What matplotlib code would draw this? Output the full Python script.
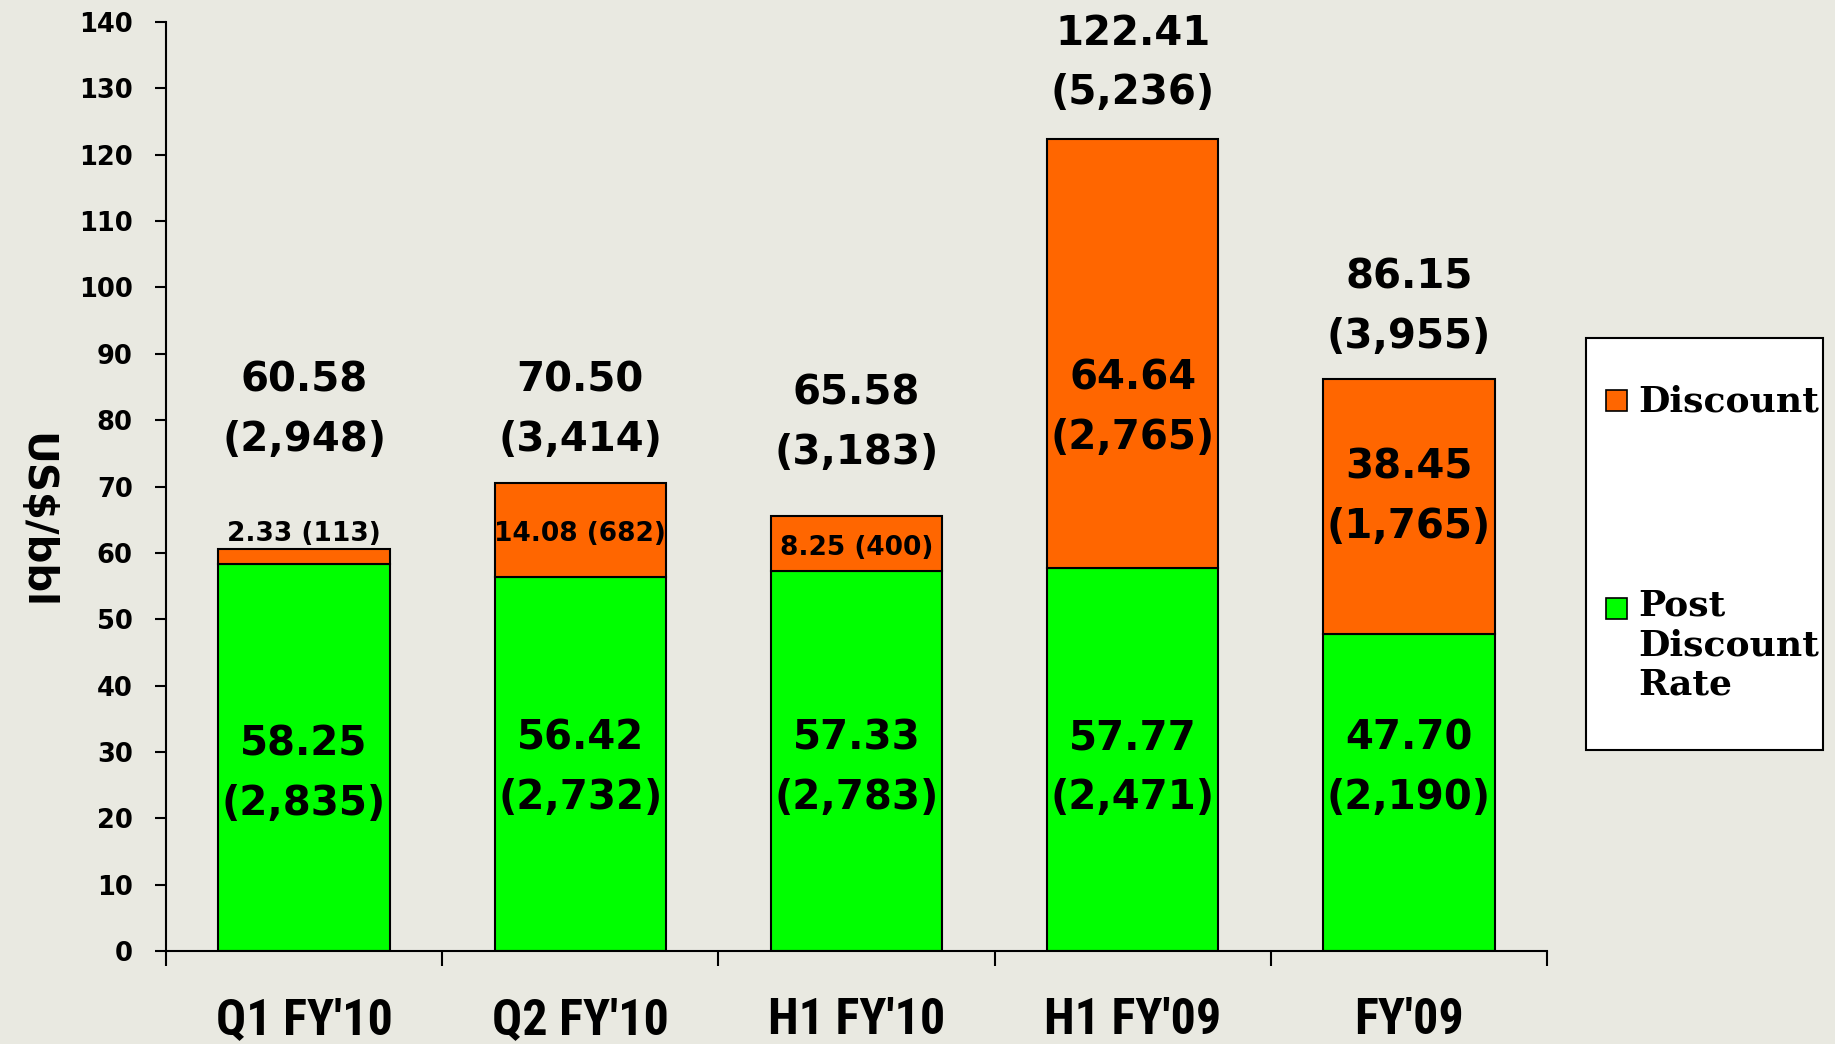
import matplotlib
matplotlib.use("Agg")
import matplotlib.pyplot as plt
from matplotlib import font_manager
from matplotlib.patches import Rectangle

categories = ["Q1 FY'10", "Q2 FY'10", "H1 FY'10", "H1 FY'09", "FY'09"]
post_discount = [58.25, 56.42, 57.33, 57.77, 47.70]
post_discount_vol = ["2,835", "2,732", "2,783", "2,471", "2,190"]
discount = [2.33, 14.08, 8.25, 64.64, 38.45]
discount_vol = ["113", "682", "400", "2,765", "1,765"]
total = [60.58, 70.50, 65.58, 122.41, 86.15]
total_vol = ["2,948", "3,414", "3,183", "5,236", "3,955"]

# label placement (data units), hand-tuned like the original slide
total_label_y = [81.5, 81.5, 79.5, 133.8, 97.0]
green_label_y = [26.6, 27.5, 27.5, 27.5, 27.5]
discount_label_y = [62.8, 62.8, 60.8, 81.8, 68.4]
small_discount = [True, True, True, False, False]

ORANGE = "#FF6600"
GREEN = "#00FF00"
BG = "#E9E9E1"

names = {f.name for f in font_manager.fontManager.ttflist}
narrow = next((n for n in ["Liberation Sans Narrow", "Roboto Condensed", "Liberation Sans"] if n in names), "DejaVu Sans")

W, H = 1835, 1044
fig = plt.figure(figsize=(W / 100, H / 100), dpi=100, facecolor=BG)
ax = fig.add_axes([166 / W, 93 / H, (1547 - 166) / W, (951 - 22) / H])
ax.set_facecolor(BG)

x = list(range(len(categories)))
ax.bar(x, post_discount, width=0.62, color=GREEN, edgecolor="black", linewidth=1.5, zorder=2)
ax.bar(x, discount, width=0.62, bottom=post_discount, color=ORANGE, edgecolor="black", linewidth=1.5, zorder=2)

ax.set_xlim(-0.5, len(categories) - 0.5)
ax.set_ylim(0, 140)

for side in ["top", "right"]:
    ax.spines[side].set_visible(False)
for side in ["left", "bottom"]:
    ax.spines[side].set_linewidth(1.5)

ax.set_yticks(range(0, 141, 10))
ax.tick_params(axis="y", length=8, width=1.5, pad=16, labelsize=18.5)
for lbl in ax.get_yticklabels():
    lbl.set_fontweight("bold")

ax.set_xticks([v - 0.5 for v in range(len(categories) + 1)])
ax.set_xticklabels([])
ax.tick_params(axis="x", which="major", length=11, width=1.5)
ax.set_xticks(x, minor=True)
ax.set_xticklabels(categories, minor=True, fontsize=36, fontweight="bold", family=narrow)
ax.tick_params(axis="x", which="minor", length=0, pad=33)

big = dict(ha="center", va="center", fontsize=29, fontweight="bold", linespacing=1.62, zorder=3)
small = dict(ha="center", va="center", fontsize=19, fontweight="bold", zorder=3)

for i in x:
    ax.text(i, total_label_y[i], f"{total[i]:.2f}\n({total_vol[i]})", **big)
    ax.text(i, green_label_y[i], f"{post_discount[i]:.2f}\n({post_discount_vol[i]})", **big)
    if small_discount[i]:
        ax.text(i, discount_label_y[i], f"{discount[i]:.2f} ({discount_vol[i]})", **small)
    else:
        ax.text(i, discount_label_y[i], f"{discount[i]:.2f}\n({discount_vol[i]})", **big)

fig.text(35 / W, 1 - 521 / H, "US$/bbl", rotation=270, ha="center", va="center",
         fontsize=29, fontweight="bold")

# legend box drawn by hand so the swatch sits beside the first line
fig.patches.append(Rectangle((1586 / W, 1 - 750 / H), 237 / W, 412 / H, transform=fig.transFigure,
                             facecolor="white", edgecolor="black", linewidth=1.5))
for color, y_top in [(ORANGE, 390), (GREEN, 598)]:
    fig.patches.append(Rectangle((1606 / W, 1 - (y_top + 21) / H), 21 / W, 21 / H, transform=fig.transFigure,
                                 facecolor=color, edgecolor="black", linewidth=1.2))
legend_font = dict(family="DejaVu Serif", fontsize=26, fontweight="bold", ha="left")
fig.text(1638 / W, 1 - 401 / H, "Discount", va="center", **legend_font)
fig.text(1638 / W, 1 - 589 / H, "Post\nDiscount\nRate", va="top", linespacing=1.2, **legend_font)

fig.savefig("out.png", dpi=100, facecolor=BG)
